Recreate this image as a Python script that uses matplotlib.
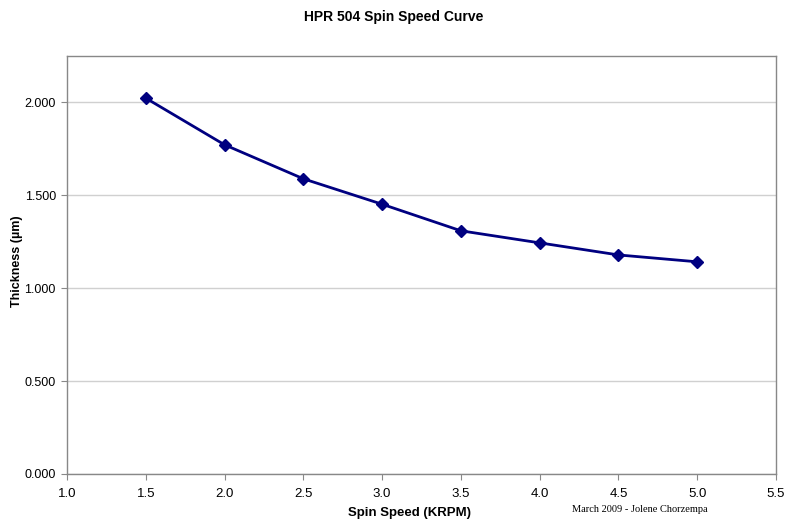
import matplotlib
matplotlib.use("Agg")
import matplotlib.pyplot as plt
from matplotlib.ticker import FormatStrFormatter, MultipleLocator

spin_speed = [1.5, 2.0, 2.5, 3.0, 3.5, 4.0, 4.5, 5.0]
thickness = [2.023, 1.772, 1.589, 1.452, 1.309, 1.244, 1.179, 1.142]

plt.rcParams['font.family'] = ['Liberation Sans', 'DejaVu Sans']

fig = plt.figure(figsize=(7.87, 5.23), dpi=100)
ax = fig.add_axes([0.0851, 0.0937, 0.901, 0.7993])

ax.plot(spin_speed, thickness, color='#000080', lw=2, marker='D', ms=6,
        markerfacecolor='#000080', markeredgecolor='#000080', zorder=3)

ax.set_xlim(1.0, 5.5)
ax.set_ylim(0, 2.25)
ax.xaxis.set_major_locator(MultipleLocator(0.5))
ax.yaxis.set_major_locator(MultipleLocator(0.5))
ax.xaxis.set_major_formatter(FormatStrFormatter('%.1f'))
ax.yaxis.set_major_formatter(FormatStrFormatter('%.3f'))
ax.grid(axis='y', color='#d0d0d0', lw=1)
ax.set_axisbelow(True)
for s in ax.spines.values():
    s.set_color('#888888')
    s.set_linewidth(1)
ax.tick_params(axis='x', direction='out', length=4, color='#888888', labelsize=9.5, pad=6)
ax.tick_params(axis='y', direction='out', length=4, color='#888888', labelsize=9, pad=4)

fig.text(0.5, 0.967, 'HPR 504 Spin Speed Curve', ha='center', va='center',
         fontsize=10, fontweight='bold')
fig.text(0.52, 0.019, 'Spin Speed (KRPM)', ha='center', va='center',
         fontsize=9.5, fontweight='bold')
fig.text(0.021, 0.5, 'Thickness (µm)', ha='center', va='center',
         fontsize=9, fontweight='bold', rotation=90)
fig.text(0.813, 0.025, 'March 2009 - Jolene Chorzempa', ha='center', va='center',
         fontsize=7.5, family=['Liberation Serif', 'DejaVu Serif'])

fig.savefig('out.png', dpi=100)
